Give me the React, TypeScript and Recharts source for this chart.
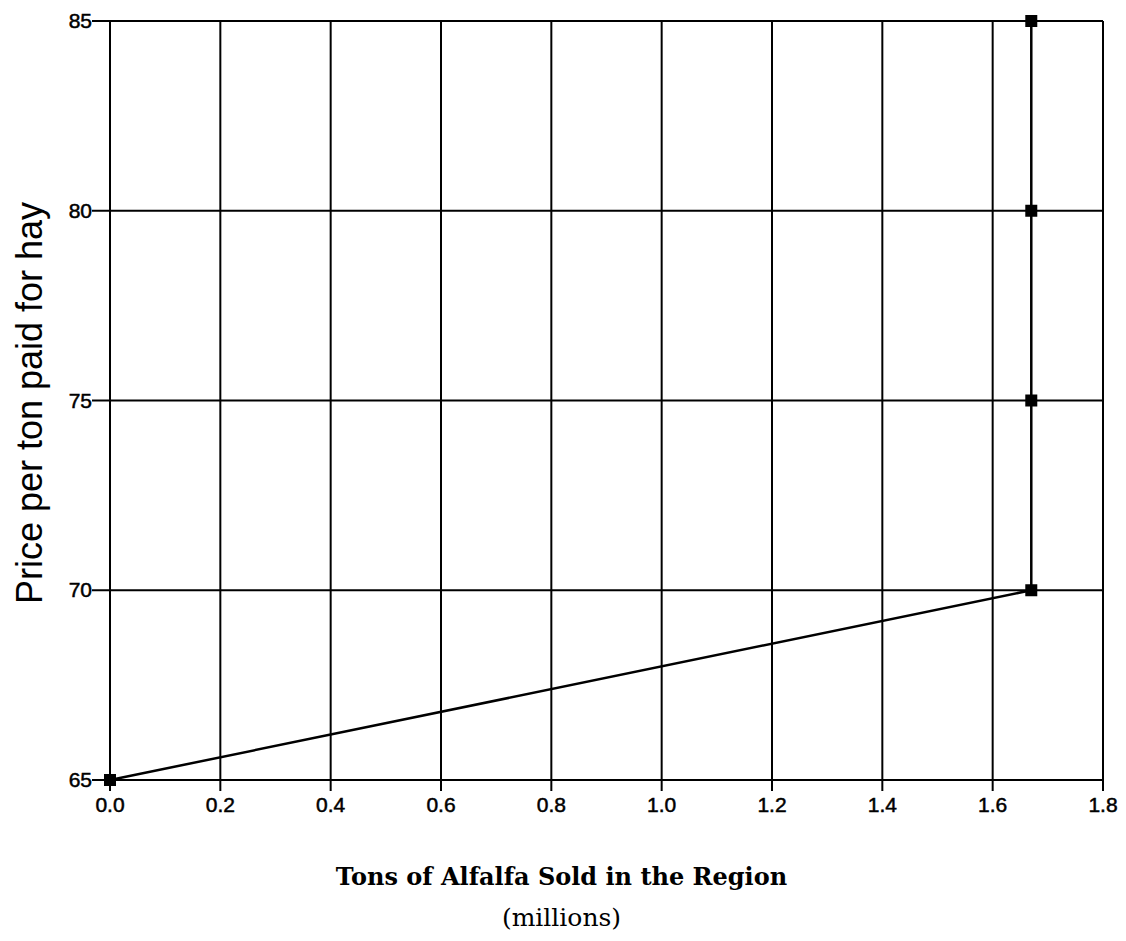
import React from 'react';
import { LineChart, Line, XAxis, YAxis, CartesianGrid } from 'recharts';

// Supply curve points (millions of tons, $ per ton)
const tons = [0, 1.67, 1.67, 1.67, 1.67];
const prices = [65, 70, 75, 80, 85];
const xTicks = [0, 0.2, 0.4, 0.6, 0.8, 1.0, 1.2, 1.4, 1.6, 1.8];
const yTicks = [65, 70, 75, 80, 85];

const data = tons.map((t, i) => ({ tons: t, price: prices[i] }));

const SANS = "'Liberation Sans', Arial, sans-serif";
const SERIF = "'DejaVu Serif', serif";

const SquareDot = (props: any) => {
  const { cx, cy } = props;
  if (cx == null || cy == null) return null;
  return <rect x={cx - 6} y={cy - 6} width={12} height={12} fill="#000" />;
};

const XTick = (props: any) => {
  const { x, y, payload } = props;
  return (
    <text
      x={x}
      y={y + 19}
      textAnchor="middle"
      fontFamily={SANS}
      fontSize={21}
      fill="#000"
      stroke="#000"
      strokeWidth={0.5}
    >
      {Number(payload.value).toFixed(1)}
    </text>
  );
};

const YTick = (props: any) => {
  const { x, y, payload } = props;
  return (
    <text
      x={x + 1}
      y={y + 7}
      textAnchor="end"
      fontFamily={SANS}
      fontSize={21}
      fill="#000"
      stroke="#000"
      strokeWidth={0.5}
    >
      {payload.value}
    </text>
  );
};

const XLabel = (props: any) => {
  const { viewBox } = props;
  const cx = viewBox.x + viewBox.width / 2 - 45;
  return (
    <g fontFamily={SERIF} fill="#000">
      <text x={cx} y={viewBox.y + 105} textAnchor="middle" fontSize={24} fontWeight="bold">
        Tons of Alfalfa Sold in the Region
      </text>
      <text x={cx} y={viewBox.y + 146} textAnchor="middle" fontSize={25}>
        (millions)
      </text>
    </g>
  );
};

const YLabel = () => {
  const x = 21;
  const y = 395;
  return (
    <text
      x={x}
      y={y}
      transform={`rotate(-90, ${x}, ${y})`}
      textAnchor="middle"
      dominantBaseline="central"
      fontFamily={SANS}
      fontSize={36}
      fill="#000"
    >
      Price per ton paid for hay
    </text>
  );
};

export default function App() {
  return (
    <div style={{ background: '#fff' }}>
      <LineChart
        width={1110}
        height={933}
        data={data}
        margin={{ top: 13, right: 15, left: 42, bottom: 131 }}
      >
        <CartesianGrid stroke="#000" strokeWidth={2} />
        <XAxis
          dataKey="tons"
          type="number"
          domain={[0, 1.8]}
          ticks={xTicks}
          tick={<XTick />}
          tickSize={11}
          height={30}
          stroke="#000"
          strokeWidth={2}
          tickLine={{ stroke: '#000', strokeWidth: 2 }}
          label={<XLabel />}
          interval={0}
        />
        <YAxis
          dataKey="price"
          type="number"
          domain={[65, 85]}
          ticks={yTicks}
          tick={<YTick />}
          tickSize={18}
          tickMargin={1}
          width={60}
          stroke="#000"
          strokeWidth={2}
          tickLine={{ stroke: '#000', strokeWidth: 2 }}
          label={<YLabel />}
          interval={0}
        />
        <Line
          type="linear"
          dataKey="price"
          stroke="#000"
          strokeWidth={2.5}
          dot={<SquareDot />}
          isAnimationActive={false}
        />
      </LineChart>
    </div>
  );
}
